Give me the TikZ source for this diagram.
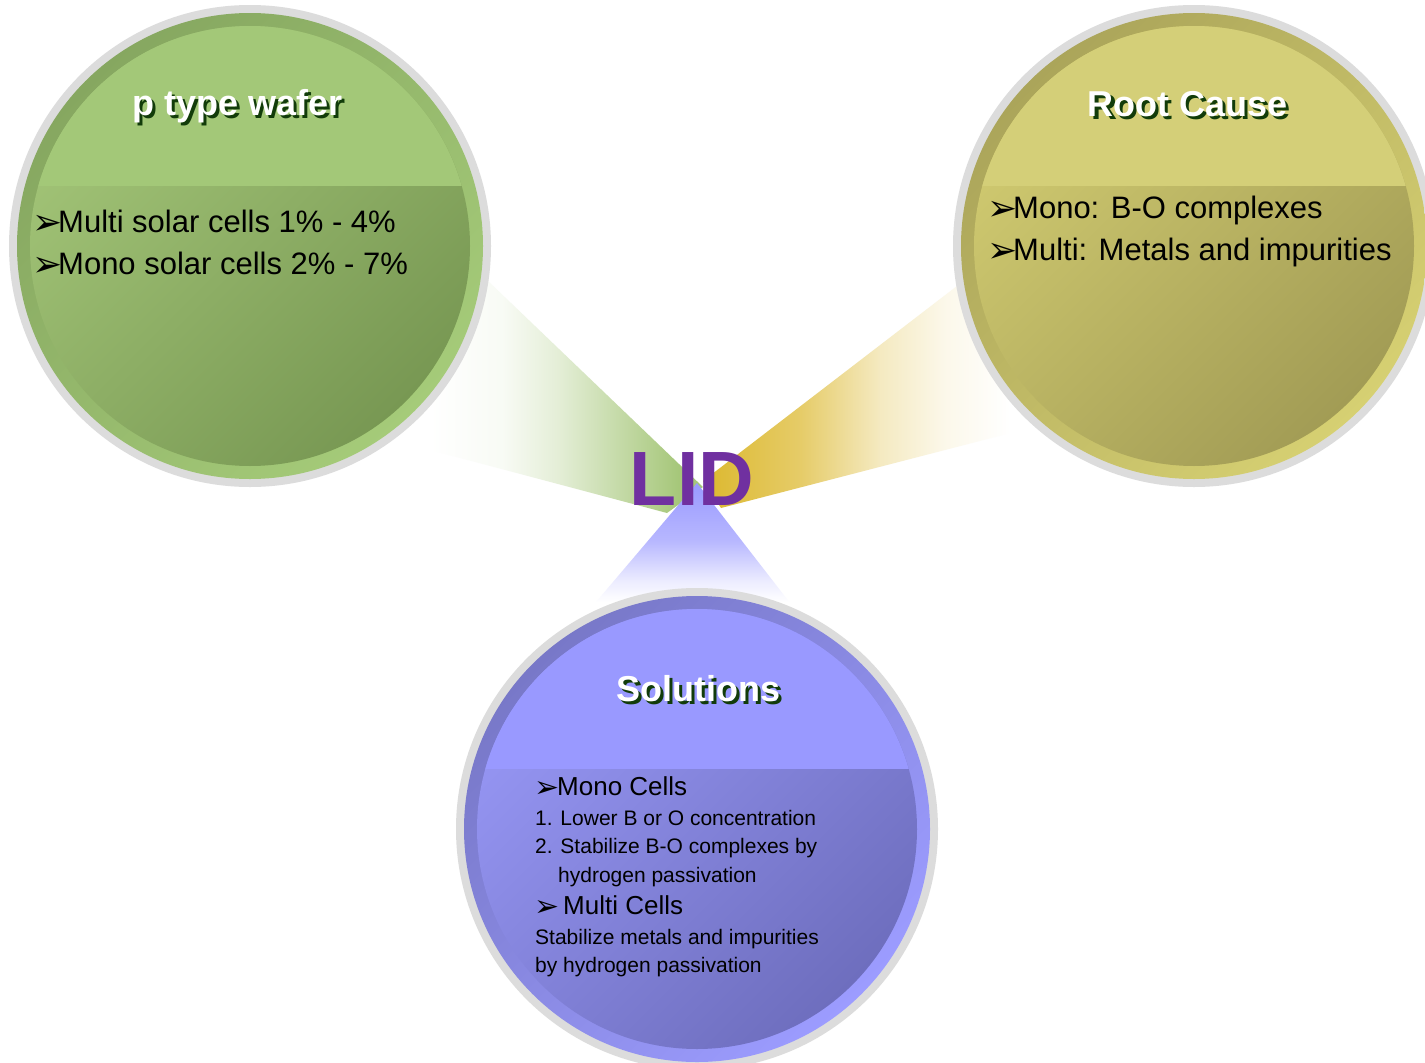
\documentclass[tikz,border=0pt]{standalone}
\usepackage{fontspec}
\setmainfont{Liberation Sans}
\newfontfamily\dejavu{DejaVu Sans}

\definecolor{ringgray}{HTML}{DCDCDC}
\definecolor{gHead}{HTML}{A3C878}
\definecolor{gRingA}{HTML}{86A760}
\definecolor{gRingB}{HTML}{A5CB79}
\definecolor{gInA}{HTML}{A2C477}
\definecolor{gInB}{HTML}{789853}
\definecolor{yHead}{HTML}{D4CF78}
\definecolor{yRingA}{HTML}{ABA55A}
\definecolor{yRingB}{HTML}{D6D072}
\definecolor{yInA}{HTML}{D0CA70}
\definecolor{yInB}{HTML}{A29C55}
\definecolor{bHead}{HTML}{9999FF}
\definecolor{bRingA}{HTML}{7878C8}
\definecolor{bRingB}{HTML}{9C9CFF}
\definecolor{bInA}{HTML}{9696F4}
\definecolor{bInB}{HTML}{6E6EBE}
\definecolor{lidpurple}{HTML}{7030A0}
\definecolor{titleshadow}{HTML}{123C0A}
\definecolor{beamgreen}{HTML}{A6C77A}
\definecolor{beamgold}{HTML}{DCB82E}
\definecolor{beamblue}{HTML}{9999FF}

\pgfdeclarehorizontalshading{greenbeam}{100bp}{color(0bp)=(white); color(30bp)=(white); color(42bp)=(beamgreen!8!white); color(51bp)=(beamgreen!30!white); color(61bp)=(beamgreen!65!white); color(71bp)=(beamgreen); color(100bp)=(beamgreen)}
\pgfdeclarehorizontalshading{goldbeam}{100bp}{color(0bp)=(beamgold); color(25bp)=(beamgold); color(40bp)=(beamgold!72!white); color(52bp)=(beamgold!30!white); color(62bp)=(beamgold!10!white); color(72bp)=(white); color(100bp)=(white)}
\pgfdeclareverticalshading{bluebeam}{100bp}{color(0bp)=(white); color(30bp)=(white); color(38bp)=(beamblue!19!white); color(53bp)=(beamblue!70!white); color(75bp)=(beamblue); color(100bp)=(beamblue)}

\newcommand\bubble[8]{%
  \fill[ringgray] (#2,#3) circle[radius=241pt];
  \shade[top color=#4, bottom color=#5, shading angle=45] (#2,#3) circle[radius=233pt];
  \shade[top color=#6, bottom color=#7, shading angle=45] (#2,#3) circle[radius=220pt];
  \begin{scope}
    \clip (#2,#3) circle[radius=220pt];
    \fill[#8] (#2,#3) ++(-230,-230) rectangle ++(460,170);
  \end{scope}
}
% title text with a dark drop shadow, in one box
\newcommand\shadowed[1]{\makebox[0pt][l]{\hspace{3pt}\raisebox{-3pt}{\textcolor{titleshadow}{#1}}}\textcolor{white}{#1}}

\tikzset{
  ttl/.style={font=\bfseries\fontsize{36}{42}\selectfont, inner sep=0pt, anchor=base},
  body/.style={font=\fontsize{31}{37}\selectfont, inner sep=0pt, anchor=base west},
  smalltxt/.style={font=\fontsize{21}{25}\selectfont, inner sep=0pt, anchor=base west},
  midtxt/.style={font=\fontsize{26}{30}\selectfont, inner sep=0pt, anchor=base west},
  arrowbul/.style={font=\dejavu\fontsize{#1}{#1}\selectfont, inner sep=0pt, anchor=base west},
}

\begin{document}
\begin{tikzpicture}[x=1pt, y=-1pt]
\useasboundingbox (0,0) rectangle (1425,1063);
\clip (0,0) rectangle (1425,1063);
\fill[white] (0,0) rectangle (1425,1063);

% beams
\shade[shading=greenbeam] (487,280) -- (703,487) -- (667,513) -- (400,442) -- cycle;
\shade[shading=goldbeam] (957,286) -- (703,481) -- (721,508) -- (1030,428) -- cycle;
\shade[shading=bluebeam] (697,483) -- (797,612) -- (585,615) -- cycle;

% bubbles
\bubble{green}{250}{246}{gRingA}{gRingB}{gInA}{gInB}{gHead}
\bubble{yellow}{1194}{246}{yRingA}{yRingB}{yInA}{yInB}{yHead}
\bubble{blue}{697}{829}{bRingA}{bRingB}{bInA}{bInB}{bHead}

% titles
\node[ttl] (t1) at (238,115) {\shadowed{p type wafer}};
\node[ttl] (t2) at (1188,116) {\shadowed{Root Cause}};
\node[ttl] (t3) at (698,701) {\shadowed{Solutions}};

% green text
\node[arrowbul=36] (g1a) at (32,234) {➢};
\node[body] (g1) at (58,232) {Multi solar cells 1\% - 4\%};
\node[arrowbul=36] (g2a) at (32,276) {➢};
\node[body] (g2) at (58,274) {Mono solar cells 2\% - 7\%};

% yellow text
\node[arrowbul=36] (y1a) at (987,220) {➢};
\node[body] (y1) at (1013,218) {Mono: B-O complexes};
\node[arrowbul=36] (y2a) at (987,262) {➢};
\node[body] (y2) at (1013,260) {Multi: Metals and impurities};

% blue text
\node[arrowbul=30] (b1a) at (534,797) {➢};
\node[midtxt] (b1) at (557,795) {Mono Cells};
\node[smalltxt] (b2) at (535,825) {1. Lower B or O concentration};
\node[smalltxt] (b3) at (535,853) {2. Stabilize B-O complexes by};
\node[smalltxt] (b4) at (558,882) {hydrogen passivation};
\node[arrowbul=30] (b5a) at (534,916) {➢};
\node[midtxt] (b5) at (563,914) {Multi Cells};
\node[smalltxt] (b6) at (535,944) {Stabilize metals and impurities};
\node[smalltxt] (b7) at (535,972) {by hydrogen passivation};

% center label
\node[font=\bfseries\fontsize{77}{80}\selectfont, text=lidpurple, inner sep=0pt, anchor=base] (lid) at (692,505) {LID};
\end{tikzpicture}
\end{document}
